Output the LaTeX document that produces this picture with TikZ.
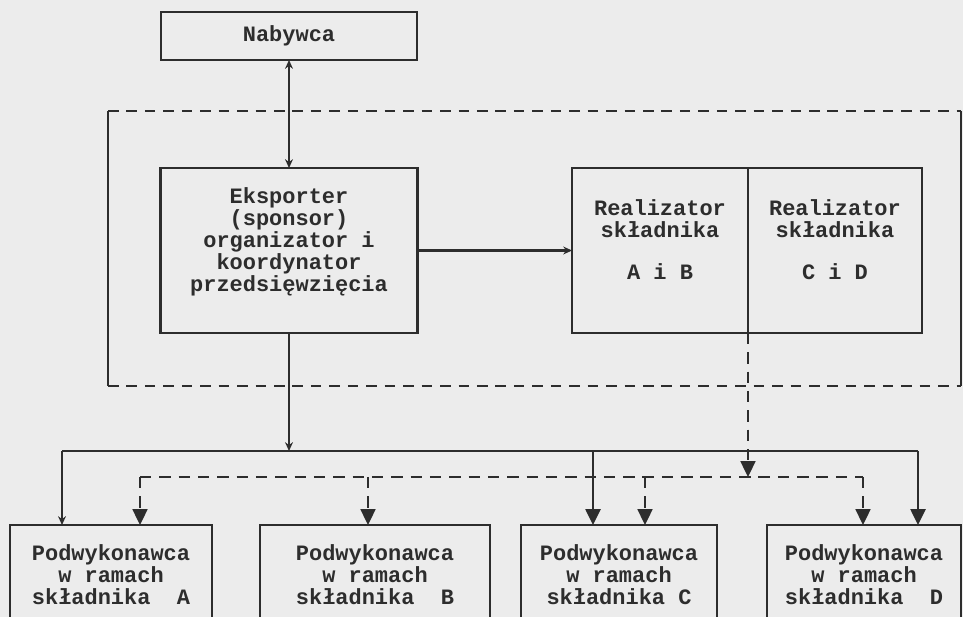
\documentclass[tikz,border=0pt]{standalone}
\usepackage{fontspec}
\setmonofont{Liberation Mono}
\usetikzlibrary{arrows.meta}
\definecolor{ink}{RGB}{45,45,45}
\definecolor{paper}{RGB}{236,236,236}
\tikzset{
  box/.style={draw=ink, line width=1.6pt, outer sep=0pt, inner sep=0pt, align=center,
    text=ink, font=\ttfamily\bfseries\fontsize{12.5}{12.5}\selectfont},
  sub/.style={box, anchor=north, inner ysep=11pt},
  link/.style={draw=ink, line width=1.3pt},
  thinlink/.style={draw=ink, line width=0.8pt},
  frame/.style={draw=ink, line width=1.6pt, dash pattern=on 6pt off 4.5pt},
  dlink/.style={draw=ink, line width=1.1pt, dash pattern=on 6.5pt off 4.5pt},
  tip/.style={-{Stealth[length=5pt,width=4.5pt]}},
  bigtip/.style={-{Triangle[length=9pt,width=8.5pt]}},
}
\begin{document}
\begin{tikzpicture}[x=0.02cm, y=-0.02cm]
\fill[paper] (0,0) rectangle (963,617);
\clip (0,0) rectangle (963,617);

% Nabywca, eksporter i realizatorzy
\node[box, minimum width=5.12cm, minimum height=0.96cm] (nab) at (289,36) {Nabywca};
\node[box, minimum width=5.14cm, minimum height=3.3cm] (eksp) at (289,250.5)
  {Eksporter\\(sponsor)\\organizator i\\koordynator\\przedsięwzięcia\\\mbox{}};
\node[box, minimum width=3.52cm, minimum height=3.3cm] (realAB) at (660,250.5)
  {Realizator\\składnika\\[11pt]A i B\\\mbox{}};
\node[box, minimum width=3.48cm, minimum height=3.3cm, anchor=west] (realCD) at (realAB.east)
  {Realizator\\składnika\\[11pt]C i D\\\mbox{}};

% Ramka
\coordinate (fTL) at (108,111);
\coordinate (fBR) at (961,386);
\draw[frame] (fTL) -- (fTL -| fBR);
\draw[frame] (fTL |- fBR) -- (fBR);
\draw[ink, line width=1.6pt] (fTL) -- (fTL |- fBR);
\draw[ink, line width=1.6pt] (fTL -| fBR) -- (fBR);

% Podwykonawcy
\node[sub, minimum width=4.04cm] (subA) at (111,525) {Podwykonawca\\w ramach\\składnika~~A};
\node[sub, minimum width=4.6cm] (subB) at (375,525) {Podwykonawca\\w ramach\\składnika~~B};
\node[sub, minimum width=3.92cm] (subC) at (619,525) {Podwykonawca\\w ramach\\składnika C};
\node[sub, minimum width=3.88cm] (subD) at (864,525) {Podwykonawca\\w ramach\\składnika~~D};

% Polaczenia
\draw[link, {Stealth[length=5pt,width=4.5pt]}-{Stealth[length=5pt,width=4.5pt]}]
  (nab.south) -- (eksp.north);
\draw[link, tip] (eksp.east) -- (realAB.west);

\coordinate (busA) at (62,451);
\coordinate (busC) at (593,451);
\coordinate (busD) at (918,451);
\draw[thinlink] (busA) -- (busD);
\draw[link, tip] (eksp.south) -- (eksp.south |- busA);
\draw[link, tip] (busA) -- (busA |- subA.north);
\draw[link, bigtip] (busC) -- (busC |- subC.north);
\draw[link, bigtip] (busD) -- (busD |- subD.north);

\coordinate (dbusA) at (140,477);
\coordinate (dbusB) at (368,477);
\coordinate (dbusC) at (645,477);
\coordinate (dbusD) at (863,477);
\draw[dlink] (dbusA) -- (dbusD);
\draw[dlink, bigtip] (realAB.south east) -- (realAB.south east |- dbusA);
\foreach \s in {A,B,C,D}
  \draw[dlink, bigtip] (dbus\s) -- (dbus\s |- sub\s.north);
\end{tikzpicture}
\end{document}
